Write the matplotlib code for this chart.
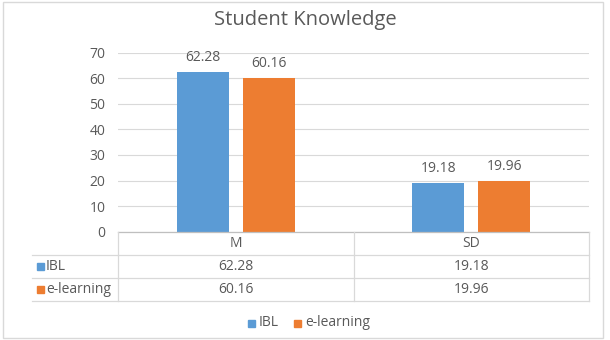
import matplotlib.pyplot as plt
from matplotlib.patches import Rectangle
from matplotlib.lines import Line2D

categories = ['M', 'SD']
series_names = ['IBL', 'e-learning']
ibl = [62.28, 19.18]
elearning = [60.16, 19.96]
colors = ['#5B9BD5', '#ED7D31']
text_color = '#595959'
grid_color = '#D9D9D9'

plt.rcParams['font.family'] = ['Open Sans', 'DejaVu Sans']

W, H = 610, 340
fig = plt.figure(figsize=(W / 100, H / 100), dpi=100)


def fx(px):
    return px / W


def fy(py):
    return 1 - py / H


# plot area in pixels
x0, x1 = 118, 589
y_top, y_zero = 52.7, 231.7
ax = fig.add_axes([fx(x0), fy(y_zero), fx(x1 - x0), (y_zero - y_top) / H])

bar_w = 0.22
gap = 0.06
xs = list(range(len(categories)))
for i, (vals, name) in enumerate(zip([ibl, elearning], series_names)):
    offs = (i - 0.5) * (bar_w + gap)
    pos = [x + offs for x in xs]
    bars = ax.bar(pos, vals, width=bar_w, color=colors[i], zorder=3)
    for b, v in zip(bars, vals):
        ax.annotate(f'{v:.2f}', (b.get_x() + b.get_width() / 2, v),
                    xytext=(0, 5), textcoords='offset points',
                    ha='center', va='bottom', fontsize=10, color=text_color)

ax.set_xlim(-0.5, len(categories) - 0.5)
ax.set_ylim(0, 70)
ax.set_yticks(range(0, 71, 10))
ax.tick_params(axis='y', length=0, labelsize=10, labelcolor=text_color, pad=9)
ax.tick_params(axis='x', length=0, labelbottom=False)
ax.grid(axis='y', color=grid_color, linewidth=0.8, zorder=0)
for s in ax.spines.values():
    s.set_visible(False)

fig.text(0.5, fy(20), 'Student Knowledge', ha='center', va='center',
         fontsize=14.5, color=text_color)

# data table below the axis
row_lines = [232, 254.5, 277.5, 301]
col_lines = [32, x0, 354, x1]
lc = '#D9D9D9'
fig.add_artist(Line2D([fx(x0), fx(x1)], [fy(row_lines[0])] * 2, color='#BFBFBF', lw=0.9))
for r in row_lines[1:]:
    fig.add_artist(Line2D([fx(col_lines[0]), fx(x1)], [fy(r)] * 2, color=lc, lw=0.9))
for c in col_lines[1:]:
    fig.add_artist(Line2D([fx(c)] * 2, [fy(row_lines[0]), fy(row_lines[-1])], color=lc, lw=0.9))

for j, cat in enumerate(categories):
    cx = (col_lines[j + 1] + col_lines[j + 2]) / 2
    fig.text(fx(cx), fy((row_lines[0] + row_lines[1]) / 2), cat, ha='center', va='center',
             fontsize=10, color=text_color)
    for i, vals in enumerate([ibl, elearning]):
        cy = (row_lines[i + 1] + row_lines[i + 2]) / 2
        fig.text(fx(cx), fy(cy), f'{vals[j]:.2f}', ha='center', va='center',
                 fontsize=10, color=text_color)

for i, name in enumerate(series_names):
    cy = (row_lines[i + 1] + row_lines[i + 2]) / 2
    fig.add_artist(Rectangle((fx(37), fy(cy + 3.5)), fx(7), 7 / H, color=colors[i]))
    fig.text(fx(46), fy(cy), name, ha='left', va='center', fontsize=10, color=text_color)

# legend
leg_y = 323
for lx, name, c in [(248, series_names[0], colors[0]), (294, series_names[1], colors[1])]:
    fig.add_artist(Rectangle((fx(lx), fy(leg_y + 3.5)), fx(7), 7 / H, color=c))
    fig.text(fx(lx + 11), fy(leg_y), name, ha='left', va='center', fontsize=10, color=text_color)

# chart border
fig.add_artist(Rectangle((fx(3), fy(338)), fx(600), 336 / H, fill=False,
                         edgecolor='#D9D9D9', lw=1))

fig.savefig('out.png', dpi=100)
